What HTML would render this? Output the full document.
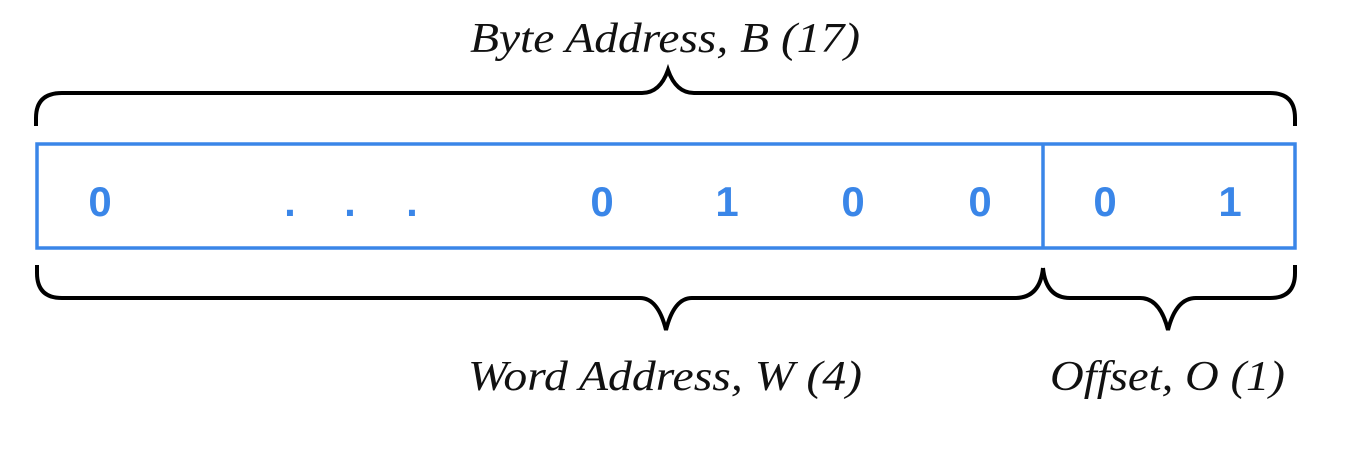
<!DOCTYPE html>
<html><head><meta charset="utf-8"><style>
html,body{margin:0;padding:0;background:#fff;}
svg{display:block;}
.lbl{font-family:"Liberation Serif",serif;font-style:italic;font-size:42px;fill:#111;}
.bit{font-family:"Liberation Sans",sans-serif;font-weight:bold;font-size:42px;fill:#3a86e8;}
</style></head><body>
<svg width="1368" height="450" viewBox="0 0 1368 450">
<text class="lbl" x="470" y="52" textLength="390" lengthAdjust="spacingAndGlyphs">Byte Address, B (17)</text>
<path d="M36 126 V118 Q36 93 62 93 H642 Q660 93 668 70 Q676 93 694 93 H1270 Q1295 93 1295 118 V126" fill="none" stroke="#000" stroke-width="4"/>
<rect x="37" y="144" width="1258" height="104" fill="none" stroke="#3a86e8" stroke-width="3.5"/>
<line x1="1043" y1="144" x2="1043" y2="248" stroke="#3a86e8" stroke-width="3.5"/>
<g>
<text class="bit" x="100" y="216" text-anchor="middle">0</text>
<text class="bit" x="290" y="216" text-anchor="middle">.</text>
<text class="bit" x="350" y="216" text-anchor="middle">.</text>
<text class="bit" x="412" y="216" text-anchor="middle">.</text>
<text class="bit" x="602" y="216" text-anchor="middle">0</text>
<text class="bit" x="727" y="216" text-anchor="middle">1</text>
<text class="bit" x="853" y="216" text-anchor="middle">0</text>
<text class="bit" x="980" y="216" text-anchor="middle">0</text>
<text class="bit" x="1105" y="216" text-anchor="middle">0</text>
<text class="bit" x="1230" y="216" text-anchor="middle">1</text>
</g>
<path d="M37 265 V273 Q37 298 62 298 H640 Q658 298 666 330 Q674 298 692 298 H1015 Q1040 298 1043 268" fill="none" stroke="#000" stroke-width="4"/>
<path d="M1043 268 Q1046 298 1070 298 H1140 Q1160 298 1168 330 Q1176 298 1196 298 H1270 Q1295 298 1295 273 V265" fill="none" stroke="#000" stroke-width="4"/>
<text class="lbl" x="468" y="390" textLength="394" lengthAdjust="spacingAndGlyphs">Word Address, W (4)</text>
<text class="lbl" x="1050" y="390" textLength="235" lengthAdjust="spacingAndGlyphs">Offset, O (1)</text>
</svg>
</body></html>
